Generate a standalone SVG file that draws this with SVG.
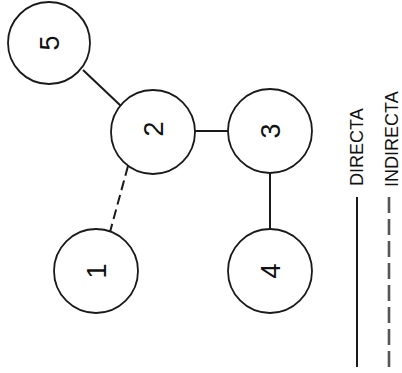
<svg xmlns="http://www.w3.org/2000/svg" width="402" height="373" viewBox="0 0 402 373">
<style>
.n{fill:#fff;stroke:#1a1a1a;stroke-width:1.8}
.d{font-family:"Liberation Sans",Arial,sans-serif;font-size:27px;fill:#111;text-anchor:middle}
.l{font-family:"Liberation Sans",Arial,sans-serif;font-size:18px;fill:#111}
.c{stroke:#1a1a1a;stroke-width:2;fill:none}
.dash{stroke-dasharray:10 5}
.ld{stroke:#555;stroke-width:2.6;stroke-dasharray:16 6}
</style>
<rect width="402" height="373" fill="#fff"/>
<g id="connectors">
<line class="c" x1="83" y1="70" x2="121" y2="106"/>
<line class="c" x1="195" y1="131" x2="228" y2="131"/>
<line class="c" x1="270" y1="173" x2="270" y2="229"/>
<line class="c dash" x1="128" y1="166" x2="110" y2="232"/>
</g>
<g id="node5"><circle class="n" cx="49" cy="43" r="41"/><text class="d" transform="translate(49,43) rotate(-90)" dy="0.36em">5</text></g>
<g id="node2"><circle class="n" cx="153" cy="132" r="42"/><text class="d" transform="translate(153,129) rotate(-90)" dy="0.36em">2</text></g>
<g id="node3"><circle class="n" cx="270" cy="131" r="42"/><text class="d" transform="translate(270,131) rotate(-90)" dy="0.36em">3</text></g>
<g id="node1"><circle class="n" cx="96" cy="271" r="42"/><text class="d" transform="translate(96,271) rotate(-90)" dy="0.36em">1</text></g>
<g id="node4"><circle class="n" cx="270" cy="271" r="42"/><text class="d" transform="translate(270,271) rotate(-90)" dy="0.36em">4</text></g>
<g id="legend">
<text class="l" transform="translate(363,186) rotate(-90)">DIRECTA</text>
<text class="l" transform="translate(398,187) rotate(-90)">INDIRECTA</text>
<line class="c" x1="357" y1="197" x2="357" y2="367" stroke-width="2.4"/>
<line class="ld" x1="389" y1="197" x2="389" y2="367"/>
</g>
</svg>
